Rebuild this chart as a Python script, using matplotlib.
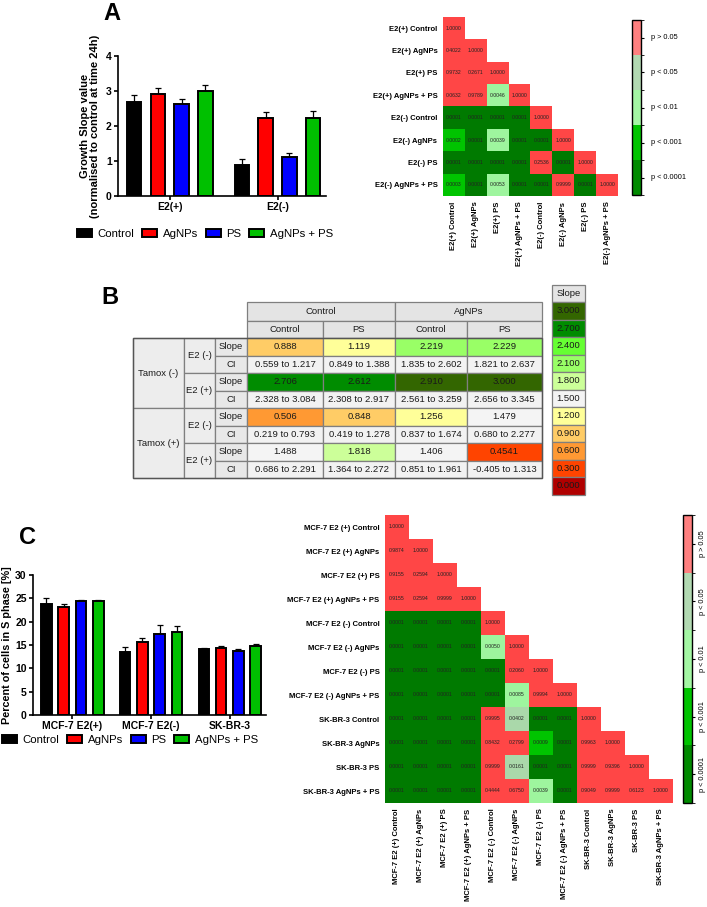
import numpy as np
import matplotlib
matplotlib.use('Agg')
import matplotlib.pyplot as plt
from matplotlib.colors import ListedColormap, BoundaryNorm
from matplotlib.patches import Rectangle
import matplotlib as mpl

plt.rcParams['font.family'] = ['Liberation Sans', 'DejaVu Sans']

# ---------------- data ----------------
treatments = ['Control', 'AgNPs', 'PS', 'AgNPs + PS']
bar_colors = ['#000000', '#FF0000', '#0000FF', '#00C000']

# panel A - growth slope
a_groups = ['E2(+)', 'E2(-)']
a_means = [[2.70, 2.91, 2.62, 3.01], [0.90, 2.23, 1.12, 2.23]]
a_errs = [[0.19, 0.18, 0.15, 0.17], [0.16, 0.18, 0.12, 0.20]]

a_labels = ['E2(+) Control', 'E2(+) AgNPs', 'E2(+) PS', 'E2(+) AgNPs + PS',
            'E2(-) Control', 'E2(-) AgNPs', 'E2(-) PS', 'E2(-) AgNPs + PS']
a_pvals = [
    [1.0],
    [0.4022, 1.0],
    [0.9732, 0.2671, 1.0],
    [0.0632, 0.9789, 0.0046, 1.0],
    [0.0001, 0.0001, 0.0001, 0.0001, 1.0],
    [0.0002, 0.0001, 0.0039, 0.0001, 0.0001, 1.0],
    [0.0001, 0.0001, 0.0001, 0.0001, 0.2536, 0.0001, 1.0],
    [0.0003, 0.0001, 0.0053, 0.0001, 0.0001, 0.9999, 0.0001, 1.0],
]

# panel B - slope table
b_row_groups = ['Tamox (-)', 'Tamox (+)']
b_e2 = ['E2 (-)', 'E2 (+)']
b_col_groups = ['Control', 'AgNPs']
b_cols = ['Control', 'PS', 'Control', 'PS']
b_slopes = [[0.888, 1.119, 2.219, 2.229],
            [2.706, 2.612, 2.910, 3.000],
            [0.506, 0.848, 1.256, 1.479],
            [1.488, 1.818, 1.406, 0.4541]]
b_ci_low = [[0.559, 0.849, 1.835, 1.821],
            [2.328, 2.308, 2.561, 2.656],
            [0.219, 0.419, 0.837, 0.680],
            [0.686, 1.364, 0.851, -0.405]]
b_ci_high = [[1.217, 1.388, 2.602, 2.637],
             [3.084, 2.917, 3.259, 3.345],
             [0.793, 1.278, 1.674, 2.277],
             [2.291, 2.272, 1.961, 1.313]]
b_levels = [3.0, 2.7, 2.4, 2.1, 1.8, 1.5, 1.2, 0.9, 0.6, 0.3, 0.0]
b_level_colors = ['#336600', '#008C00', '#66FF33', '#99FF66', '#CCFF99', '#F4F4F4',
                  '#FFFF99', '#FFCC66', '#FF9933', '#FF4400', '#B00000']

# panel C - S phase
c_groups = ['MCF-7 E2(+)', 'MCF-7 E2(-)', 'SK-BR-3']
c_means = [[23.7, 23.1, 24.4, 24.4], [13.6, 15.7, 17.4, 17.8], [14.1, 14.4, 13.7, 14.8]]
c_errs = [[1.3, 0.7, 0.3, 0.3], [0.9, 0.9, 1.9, 1.3], [0.25, 0.45, 0.5, 0.35]]

c_labels = ['MCF-7 E2 (+) Control', 'MCF-7 E2 (+) AgNPs', 'MCF-7 E2 (+) PS',
            'MCF-7 E2 (+) AgNPs + PS', 'MCF-7 E2 (-) Control', 'MCF-7 E2 (-) AgNPs',
            'MCF-7 E2 (-) PS', 'MCF-7 E2 (-) AgNPs + PS', 'SK-BR-3 Control',
            'SK-BR-3 AgNPs', 'SK-BR-3 PS', 'SK-BR-3 AgNPs + PS']
c_pvals = [
    [1.0],
    [0.9874, 1.0],
    [0.9155, 0.2594, 1.0],
    [0.9155, 0.2594, 0.9999, 1.0],
    [0.0001, 0.0001, 0.0001, 0.0001, 1.0],
    [0.0001, 0.0001, 0.0001, 0.0001, 0.0050, 1.0],
    [0.0001, 0.0001, 0.0001, 0.0001, 0.0001, 0.2060, 1.0],
    [0.0001, 0.0001, 0.0001, 0.0001, 0.0001, 0.0085, 0.9994, 1.0],
    [0.0001, 0.0001, 0.0001, 0.0001, 0.9995, 0.0402, 0.0001, 0.0001, 1.0],
    [0.0001, 0.0001, 0.0001, 0.0001, 0.8432, 0.2799, 0.0009, 0.0001, 0.9963, 1.0],
    [0.0001, 0.0001, 0.0001, 0.0001, 0.9999, 0.0161, 0.0001, 0.0001, 0.9999, 0.9396, 1.0],
    [0.0001, 0.0001, 0.0001, 0.0001, 0.4444, 0.6750, 0.0039, 0.0001, 0.9049, 0.9999, 0.6123, 1.0],
]

p_bounds = [0, 0.00015, 0.001, 0.01, 0.05, 1.01]
p_names = ['p < 0.0001', 'p < 0.001', 'p < 0.01', 'p < 0.05', 'p > 0.05']
cell_colors = ['#007A00', '#00C400', '#9EF59E', '#AAD8AA', '#FF4646']
cbar_colors = ['#008A00', '#00C400', '#A4F7A4', '#B2D9B2', '#FF8080']

# ---------------- figure ----------------
W, H = 707, 907
fig = plt.figure(figsize=(W / 100, H / 100), dpi=100)


def px_axes(x0, y0, x1, y1):
    return fig.add_axes([x0 / W, 1 - y1 / H, (x1 - x0) / W, (y1 - y0) / H])


ov = px_axes(0, 0, W, H)
ov.set_xlim(0, W)
ov.set_ylim(H, 0)
ov.axis('off')

offsets = np.array([-0.33, -0.11, 0.11, 0.33])
bw = 0.135


def draw_bars(ax, groups, means, errs):
    x = np.arange(len(groups))
    for k in range(len(treatments)):
        vals = np.array([m[k] for m in means])
        e = np.array([m[k] for m in errs])
        ax.errorbar(x + offsets[k], vals, yerr=[np.zeros_like(e), e], fmt='none',
                    ecolor='black', elinewidth=0.9, capsize=2.5, capthick=0.9, zorder=1)
        ax.bar(x + offsets[k], vals, bw, color=bar_colors[k], edgecolor='black',
               linewidth=1.4, zorder=2, label=treatments[k])
    ax.set_xticks(x)
    ax.set_xticklabels(groups, fontweight='bold', fontsize=7.5)
    for s in ['top', 'right']:
        ax.spines[s].set_visible(False)
    for s in ['left', 'bottom']:
        ax.spines[s].set_linewidth(1.2)
    ax.tick_params(width=1.2, length=3, labelsize=7.5, pad=1.5)
    for t in ax.get_yticklabels():
        t.set_fontweight('bold')


def add_legend(ax, cx, cy):
    h, l = ax.get_legend_handles_labels()
    fig.legend(h, l, loc='center', bbox_to_anchor=(cx / W, 1 - cy / H), ncol=4,
               frameon=False, fontsize=8.2, handlelength=1.3, handleheight=0.6,
               columnspacing=0.7, handletextpad=0.5)


def draw_heat(ax, labels, pvals, fs):
    n = len(labels)
    m = np.full((n, n), np.nan)
    for i, row in enumerate(pvals):
        m[i, :len(row)] = row
    cmap = ListedColormap(cell_colors)
    cmap.set_bad((1, 1, 1, 0))
    ax.imshow(np.ma.masked_invalid(m), cmap=cmap, norm=BoundaryNorm(p_bounds, 5),
              aspect='auto', interpolation='nearest')
    for i, row in enumerate(pvals):
        for j, p in enumerate(row):
            ax.text(j, i, f'{p:.4f}', ha='center', va='center', fontsize=fs, color='#222222')
    ax.set_xticks(range(n))
    ax.set_yticks(range(n))
    ax.set_xticklabels(labels, rotation=90, fontweight='bold', fontsize=5.5)
    ax.set_yticklabels(labels, fontweight='bold', fontsize=5.5)
    ax.tick_params(length=0, pad=4)
    for s in ax.spines.values():
        s.set_visible(False)


def draw_cbar(cax, rot, pad):
    cb = mpl.colorbar.ColorbarBase(cax, cmap=ListedColormap(cbar_colors),
                                   norm=BoundaryNorm(range(6), 5),
                                   ticks=np.arange(5) + 0.5)
    cb.ax.set_yticklabels(p_names, fontsize=5.3, rotation=rot, va='center')
    cb.ax.tick_params(length=2, width=0.8, pad=pad)
    cb.outline.set_linewidth(1.0)


# ---- panel A ----
axA = px_axes(118, 56, 326, 196)
draw_bars(axA, a_groups, a_means, a_errs)
axA.set_xlim(-0.48, 1.45)
axA.set_ylim(0, 4)
axA.set_yticks(range(5))
axA.set_ylabel('Growth Slope value\n(normalised to control at time 24h)',
               fontweight='bold', fontsize=8, labelpad=4, linespacing=1.1)
add_legend(axA, 205, 234)

hA = px_axes(443, 17, 618, 196)
draw_heat(hA, a_labels, a_pvals, 3.7)
draw_cbar(px_axes(632, 20, 641, 195), 0, 5)

# ---- panel C ----
axC = px_axes(33, 575, 266, 715)
draw_bars(axC, c_groups, c_means, c_errs)
axC.set_xlim(-0.5, 2.46)
axC.set_ylim(0, 30)
axC.set_yticks(range(0, 31, 5))
axC.set_ylabel('Percent of cells in S phase [%]', fontweight='bold', fontsize=7.8, labelpad=2)
add_legend(axC, 130, 740)

hC = px_axes(385, 515, 673, 803)
draw_heat(hC, c_labels, c_pvals, 3.7)
draw_cbar(px_axes(683, 515, 692, 803), 90, 3)

# ---- panel B table ----
col_x = [133, 184, 215, 247, 323, 395, 467, 542]
head_y = [302, 321, 338]
row_h = 17.5
edge = '#7F7F7F'
# each slope is coloured by the legend level whose bin [level-0.1, level+0.2) holds it
asc_levels = b_levels[::-1]
slope_norm = BoundaryNorm([lv - 0.1 for lv in asc_levels] + [asc_levels[-1] + 0.2], len(asc_levels))
slope_cmap = ListedColormap(b_level_colors[::-1])


def cell(x0, y0, x1, y1, text, fc, fs=6.8, weight='normal'):
    ov.add_patch(Rectangle((x0, y0), x1 - x0, y1 - y0, facecolor=fc, edgecolor=edge, lw=0.9))
    ov.text((x0 + x1) / 2, (y0 + y1) / 2, text, ha='center', va='center',
            fontsize=fs, color='#1A1A1A', fontweight=weight)


def fmt(v):
    s = f'{v:.4f}'
    return s[:-1] if s.endswith('0') else s


for g, name in enumerate(b_col_groups):
    cell(col_x[3 + 2 * g], head_y[0], col_x[5 + 2 * g], head_y[1], name, '#E4E4E4')
for j, name in enumerate(b_cols):
    cell(col_x[3 + j], head_y[1], col_x[4 + j], head_y[2], name, '#E4E4E4')

y0 = head_y[2]
for t, tname in enumerate(b_row_groups):
    cell(col_x[0], y0 + t * 4 * row_h, col_x[1], y0 + (t + 1) * 4 * row_h, tname, '#EDEDED')
    for e, ename in enumerate(b_e2):
        b = 2 * t + e
        top = y0 + b * 2 * row_h
        cell(col_x[1], top, col_x[2], top + 2 * row_h, ename, '#EDEDED')
        cell(col_x[2], top, col_x[3], top + row_h, 'Slope', '#E8E8E8')
        cell(col_x[2], top + row_h, col_x[3], top + 2 * row_h, 'CI', '#E8E8E8')
        for j in range(4):
            v = b_slopes[b][j]
            cell(col_x[3 + j], top, col_x[4 + j], top + row_h, fmt(v),
                 slope_cmap(slope_norm(v)), weight='medium')
            cell(col_x[3 + j], top + row_h, col_x[4 + j], top + 2 * row_h,
                 f'{b_ci_low[b][j]:.3f} to {b_ci_high[b][j]:.3f}', '#F2F2F2')
ov.add_patch(Rectangle((col_x[0], y0), col_x[-1] - col_x[0], 8 * row_h, fill=False,
                       edgecolor='#555555', lw=1.0))

# slope legend column
lx0, lx1 = 552, 585
cell(lx0, 285, lx1, 302, 'Slope', '#E4E4E4')
for i, (lv, lc) in enumerate(zip(b_levels, b_level_colors)):
    cell(lx0, 302 + i * row_h, lx1, 302 + (i + 1) * row_h, f'{lv:.3f}', lc)

# panel letters
ov.text(112, 14, 'A', fontsize=17, fontweight='bold', ha='center', va='center')
ov.text(110, 298, 'B', fontsize=17, fontweight='bold', ha='center', va='center')
ov.text(28, 537, 'C', fontsize=17, fontweight='bold', ha='center', va='center')

fig.savefig('out.png', dpi=100)
